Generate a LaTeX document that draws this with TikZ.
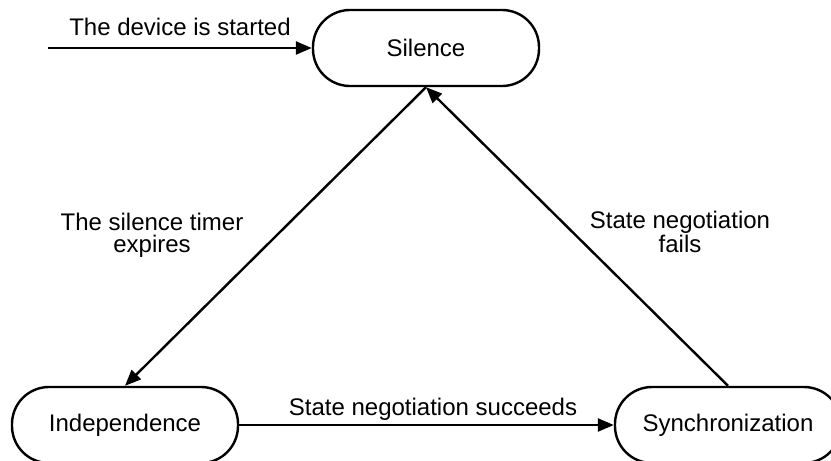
\documentclass[tikz,border=0pt]{standalone}
\usepackage{fontspec}
\setmainfont{Liberation Sans}
\usetikzlibrary{arrows.meta}
\begin{document}
\begin{tikzpicture}[x=1pt,y=-1pt,
  state/.style={draw, line width=2.4pt, rounded corners=37pt,
    minimum width=226pt, minimum height=76pt, inner sep=0pt,
    font=\fontsize{24}{22}\selectfont},
  lbl/.style={align=center, inner sep=0pt, font=\fontsize{24}{22}\selectfont},
  trans/.style={line width=2.4pt, -{Triangle[length=16pt,width=13pt]}}]
\useasboundingbox (0,0) rectangle (831,461);
\clip (0,0) rectangle (831,461);

% states
\node[state] (silence) at (426,48)  {Silence};
\node[state] (indep)   at (125,425) {Independence};
\node[state] (sync)    at (728,425) {Synchronization};

% entry point
\coordinate (start) at (48,48);

% transitions
\draw[trans] (start) -- (silence.west);
\draw[trans] (silence.south) -- (indep.north);
\draw[trans] (sync.north) -- (silence.south);
\draw[trans] (indep.east) -- (sync.west);

% transition labels (base anchor sits on the last line)
\node[lbl, anchor=base] (lstart) at (180,35) {The device is started};
\node[lbl, anchor=base] (ltimer) at (152,252) {The silence timer\\expires};
\node[lbl, anchor=base] (lfail)  at (680,252) {State negotiation\\fails};
\node[lbl, anchor=base] (lok)    at (433,415) {State negotiation succeeds};
\end{tikzpicture}
\end{document}
